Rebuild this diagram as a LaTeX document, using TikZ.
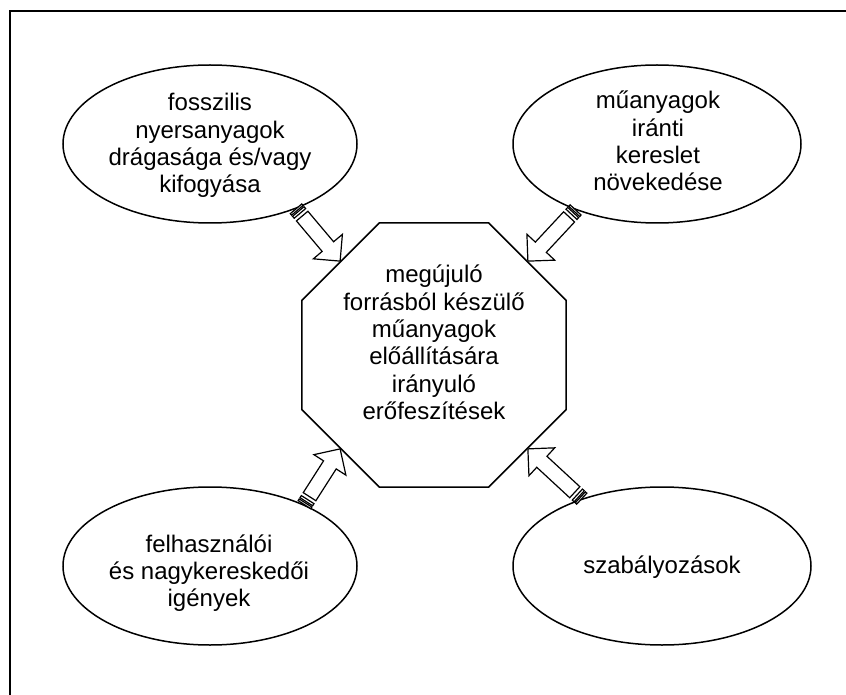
\documentclass[tikz,border=0pt]{standalone}
\usepackage{fontspec}
\setmainfont{Liberation Sans}
\usetikzlibrary{calc,shapes.geometric}
\newcommand\stripedarrow[3]{%
  \coordinate (#3a) at (#1);
  \coordinate (#3b) at (#2);
  \coordinate (#3s1) at ($(#3a)!2pt!(#3b)$);
  \coordinate (#3s2) at ($(#3a)!3.5pt!(#3b)$);
  \coordinate (#3s3) at ($(#3a)!6pt!(#3b)$);
  \coordinate (#3c) at ($(#3a)!9.5pt!(#3b)$);
  \coordinate (#3h) at ($(#3b)!19pt!(#3a)$);
  \draw[arr] ($(#3a)!7.5pt!90:(#3b)$) -- ($(#3a)!7.5pt!-90:(#3b)$) -- ($(#3s1)!7.5pt!-90:(#3b)$) -- ($(#3s1)!7.5pt!90:(#3b)$) -- cycle;
  \draw[arr] ($(#3s2)!7.5pt!90:(#3b)$) -- ($(#3s2)!7.5pt!-90:(#3b)$) -- ($(#3s3)!7.5pt!-90:(#3b)$) -- ($(#3s3)!7.5pt!90:(#3b)$) -- cycle;
  \draw[arr] ($(#3c)!7.5pt!90:(#3b)$) -- ($(#3h)!7.5pt!90:(#3b)$) -- ($(#3h)!19pt!90:(#3b)$) -- (#3b) -- ($(#3h)!19pt!-90:(#3b)$) -- ($(#3h)!7.5pt!-90:(#3b)$) -- ($(#3c)!7.5pt!-90:(#3b)$) -- cycle;
}
\begin{document}
\begin{tikzpicture}[x=1pt,y=-1pt,
  oval/.style={draw,ellipse,line width=1.5pt,minimum width=294pt,minimum height=158pt,inner sep=0pt},
  octa/.style={draw,regular polygon,regular polygon sides=8,minimum size=285.8pt,inner sep=0pt,line width=1.5pt},
  lbl/.style={align=center,font=\fontsize{24}{27.3}\selectfont,inner sep=0pt},
  arr/.style={draw,line width=1.2pt,fill=white,line join=miter}]
\useasboundingbox (0,0) rectangle (846,695);
\draw[line width=2pt] (10,700) -- (10,11) -- (850,11);
\node[oval] (tl) at (210,144) {};
\node[oval,minimum width=288pt] (tr) at (657,144) {};
\node[oval] (bl) at (210,566) {};
\node[oval,minimum width=298pt] (br) at (662,566) {};
\node[octa] (oct) at (434,355) {};
\node[lbl] (tltext) at (210,145.5) {fosszilis\\nyersanyagok\\drágasága és/vagy\\kifogyása};
\node[lbl] (trtext) at (658,141) {műanyagok\\iránti\\kereslet\\növekedése};
\node[lbl] (bltext) at (209,573) {felhasználói\\és nagykereskedői\\igények};
\node[lbl] (brtext) at (662,567) {szabályozások};
\node[lbl] (octtext) at (434,342.5) {megújuló\\forrásból készülő\\műanyagok\\előállítására\\irányuló\\erőfeszítések};
\stripedarrow{tl.-37.7}{oct.135}{A}
\stripedarrow{tr.-141}{oct.45}{B}
\stripedarrow{bl.33.3}{oct.225}{C}
\stripedarrow{br.140}{oct.-45}{D}
\end{tikzpicture}
\end{document}
